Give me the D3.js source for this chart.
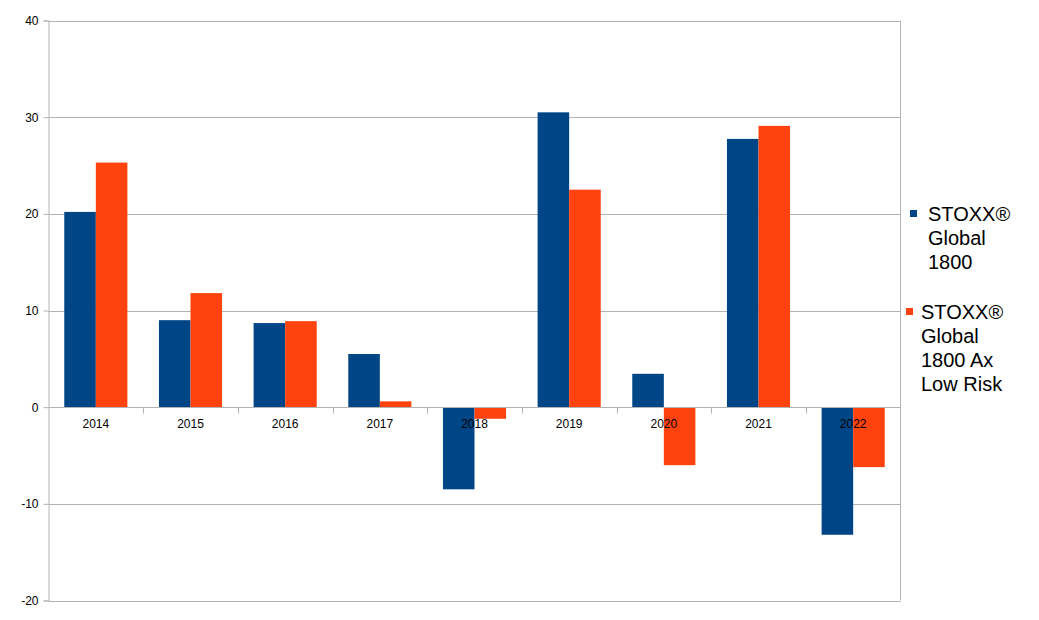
<!DOCTYPE html>
<html>
<head>
<meta charset="utf-8">
<script src="https://cdn.jsdelivr.net/npm/d3@7"></script>
<style>
    body { margin: 0; background: #fff; }
    svg { display: block; font-family: "Liberation Sans", Arial, sans-serif; }
</style>
</head>
<body>
<div class="chart"></div>
<script>
const years = ['2014', '2015', '2016', '2017', '2018', '2019', '2020', '2021', '2022']
const global1800 = [20.2, 9.0, 8.7, 5.5, -8.5, 30.5, 3.45, 27.75, -13.2]
const lowRisk = [25.3, 11.8, 8.9, 0.6, -1.2, 22.5, -6.0, 29.1, -6.2]
const seriesNames = [
    ['STOXX®', 'Global', '1800'],
    ['STOXX®', 'Global', '1800 Ax', 'Low Risk']
]
const colors = ['#004586', '#ff420e']
const yTicks = [-20, -10, 0, 10, 20, 30, 40]

const width = 1039
const height = 620
const plot = { left: 48.5, right: 900.5, top: 20.5, bottom: 600.5 }

const svg = d3.select('.chart').append('svg')
    .attr('width', width)
    .attr('height', height)

const x = d3.scaleBand()
    .domain(years)
    .range([plot.left, plot.right])
    .paddingInner(0)
    .paddingOuter(0)

const x1 = d3.scaleBand()
    .domain([0, 1])
    .range([0, x.bandwidth()])
    .paddingOuter(0.5)
    .paddingInner(0)

const y = d3.scaleLinear()
    .domain([-20, 40])
    .range([plot.bottom, plot.top])

// grid lines
svg.append('g')
    .selectAll('line')
    .data(yTicks)
    .enter()
    .append('line')
    .attr('x1', plot.left)
    .attr('x2', plot.right)
    .attr('y1', d => Math.round(y(d)) + 0.5)
    .attr('y2', d => Math.round(y(d)) + 0.5)
    .attr('stroke', '#b3b3b3')

// y axis
const yAxis = svg.append('g')
    .attr('transform', `translate(${plot.left},0)`)
    .call(d3.axisLeft(y).tickValues(yTicks).tickSize(5).tickPadding(5).tickFormat(d => String(d)))
yAxis.select('.domain').attr('stroke', '#b3b3b3')
yAxis.selectAll('.tick line').attr('stroke', '#b3b3b3')
yAxis.selectAll('.tick text')
    .attr('fill', '#000')
    .style('font-size', '12px')
    .style('font-family', '"Liberation Sans", Arial, sans-serif')

// right border
svg.append('line')
    .attr('x1', plot.right).attr('x2', plot.right)
    .attr('y1', plot.top).attr('y2', plot.bottom)
    .attr('stroke', '#b3b3b3')

// bars
const data = years.map((yr, i) => ({ year: yr, values: [global1800[i], lowRisk[i]] }))
const groups = svg.append('g')
    .selectAll('g')
    .data(data)
    .enter()
    .append('g')
    .attr('transform', d => `translate(${x(d.year)},0)`)

groups.selectAll('rect')
    .data(d => d.values.map((v, k) => ({ k, v })))
    .enter()
    .append('rect')
    .attr('x', d => x1(d.k))
    .attr('width', x1.bandwidth())
    .attr('y', d => y(Math.max(0, d.v)))
    .attr('height', d => Math.abs(y(d.v) - y(0)))
    .attr('fill', d => colors[d.k])

// x axis at zero
const zeroY = Math.round(y(0)) + 0.5
const xAxis = svg.append('g')
svg.append('line')
    .attr('x1', plot.left).attr('x2', plot.right)
    .attr('y1', zeroY).attr('y2', zeroY)
    .attr('stroke', '#b3b3b3')
xAxis.selectAll('line')
    .data(years.slice(1))
    .enter()
    .append('line')
    .attr('x1', d => Math.round(x(d)) + 0.5)
    .attr('x2', d => Math.round(x(d)) + 0.5)
    .attr('y1', zeroY)
    .attr('y2', zeroY + 6)
    .attr('stroke', '#b3b3b3')
xAxis.selectAll('text')
    .data(years)
    .enter()
    .append('text')
    .attr('x', d => x(d) + x.bandwidth() / 2)
    .attr('y', zeroY + 20.5)
    .attr('text-anchor', 'middle')
    .style('font-size', '12px')
    .attr('fill', '#000')
    .text(d => d)

// legend
const legendPos = [
    { sx: 910, sy: 210, tx: 928, ty: 221 },
    { sx: 906, sy: 308, tx: 921, ty: 318.5 }
]
seriesNames.forEach((lines, i) => {
    const p = legendPos[i]
    svg.append('rect')
        .attr('x', p.sx).attr('y', p.sy)
        .attr('width', 7).attr('height', 7)
        .attr('fill', colors[i])
    const t = svg.append('text')
        .attr('x', p.tx)
        .attr('y', p.ty)
        .style('font-size', '20px')
        .attr('fill', '#000')
    lines.forEach((ln, j) => {
        t.append('tspan')
            .attr('x', p.tx)
            .attr('y', p.ty + j * 24)
            .text(ln)
    })
})
</script>
</body>
</html>
